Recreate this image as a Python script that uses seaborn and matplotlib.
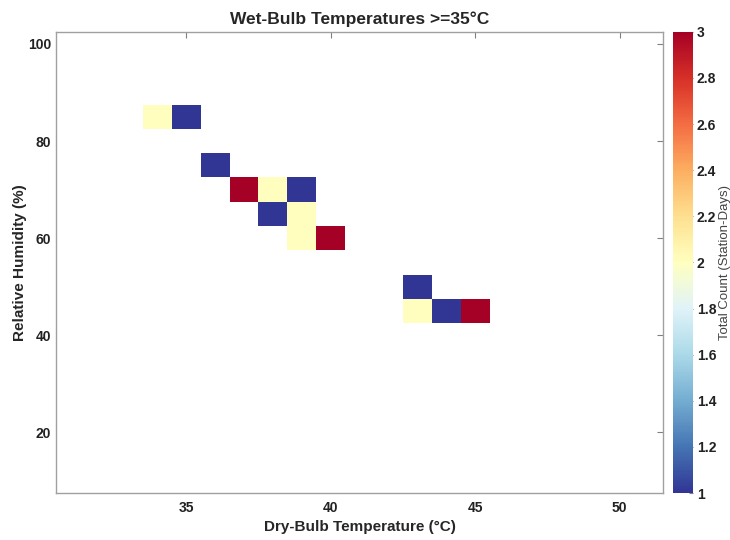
import pandas as pd
import seaborn as sns
import matplotlib.pyplot as plt

# Binned counts (station-days)
dry_bulb = [34, 35, 36, 37, 38, 39, 38, 39, 39, 40, 43, 43, 44, 45]
humidity = [85, 85, 75, 70, 70, 70, 65, 65, 60, 60, 50, 45, 45, 45]
counts = [2, 1, 1, 3, 2, 1, 1, 2, 2, 3, 1, 2, 1, 3]

df = pd.DataFrame({"tdry": dry_bulb, "rh": humidity, "count": counts})

sns.set_style("white")
plt.rcParams['font.family'] = ['Liberation Sans', 'DejaVu Sans']

fig = plt.figure(figsize=(7.3, 5.4), dpi=100)
ax = fig.add_axes([0.077, 0.087, 0.831, 0.854])
cax = fig.add_axes([0.922, 0.087, 0.027, 0.854])

sns.histplot(data=df, x="tdry", y="rh", weights="count",
             binwidth=(1, 5), binrange=((30.5, 51.5), (7.5, 102.5)),
             cmap="RdYlBu_r", vmin=1, vmax=3, cbar=True, cbar_ax=cax, ax=ax)

ax.set_xlim(30.5, 51.5)
ax.set_ylim(7.5, 102.5)
ax.set_xticks([35, 40, 45, 50])
ax.set_yticks([20, 40, 60, 80, 100])
ax.tick_params(direction="in", length=4, color="#808080", top=True, right=True,
               labelsize=10, labelcolor="#222222")
ax.tick_params(axis="x", pad=6)
for lab in ax.get_xticklabels() + ax.get_yticklabels():
    lab.set_fontweight("bold")
for s in ax.spines.values():
    s.set_color("#a0a0a0")
    s.set_linewidth(1.0)

ax.set_title("Wet-Bulb Temperatures >=35°C", fontsize=12.5, fontweight="bold", pad=6)
ax.set_xlabel("Dry-Bulb Temperature (°C)", fontsize=11, fontweight="bold", labelpad=3)
ax.set_ylabel("Relative Humidity (%)", fontsize=11, fontweight="bold", labelpad=1)

cb = ax.collections[0].colorbar
cb.set_ticks([1, 1.2, 1.4, 1.6, 1.8, 2, 2.2, 2.4, 2.6, 2.8, 3])
cb.set_ticklabels(["1", "1.2", "1.4", "1.6", "1.8", "2", "2.2", "2.4", "2.6", "2.8", "3"])
cb.outline.set_visible(False)
cax.tick_params(direction="in", length=3, color="#808080", labelsize=10,
                labelcolor="#222222", pad=3)
for lab in cax.get_yticklabels():
    lab.set_fontweight("bold")
cb.set_label("Total Count (Station-Days)", fontsize=9.5, color="#444444")
cax.yaxis.set_label_coords(2.33, 0.5)

fig.savefig("out.png", dpi=100)
